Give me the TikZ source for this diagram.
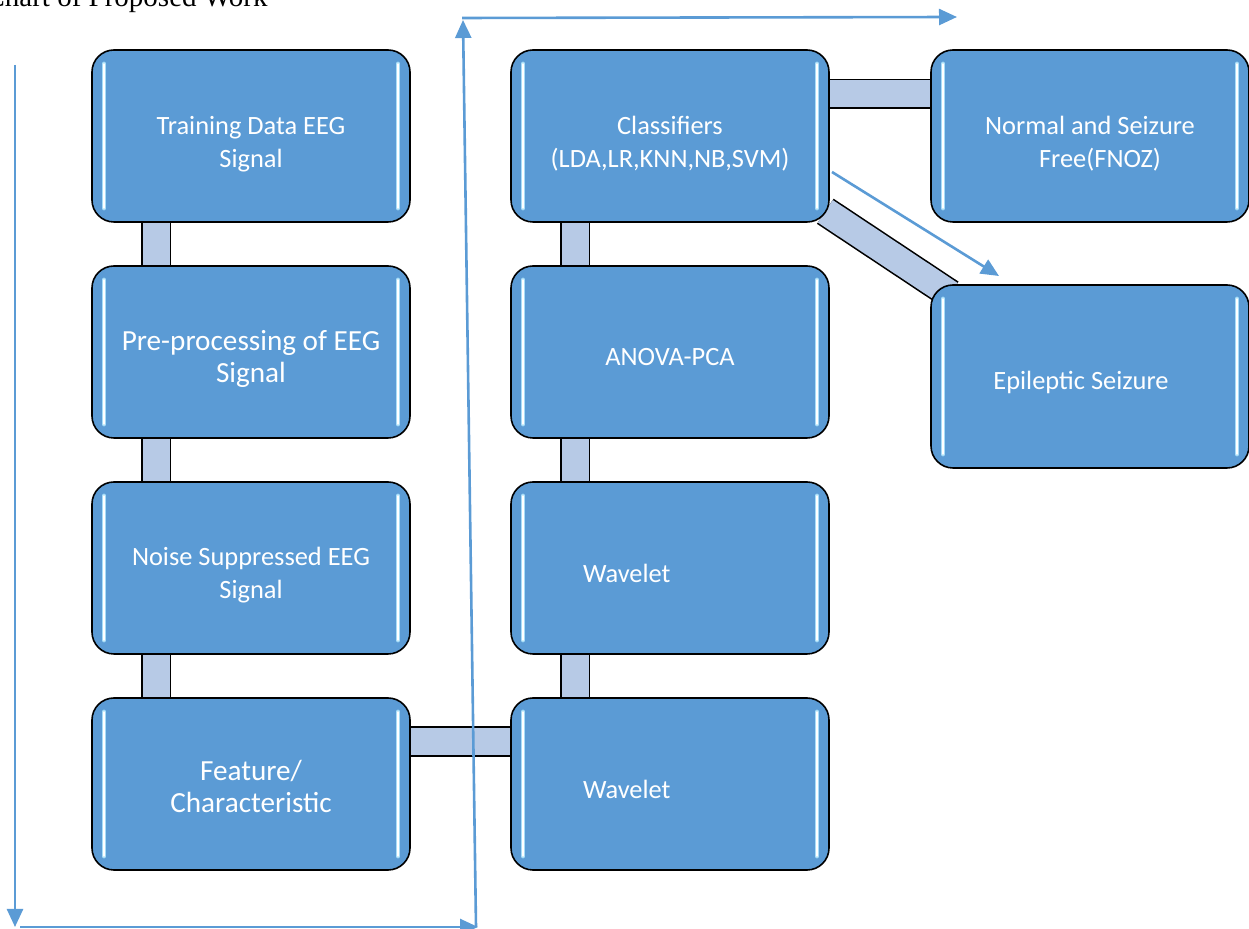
\documentclass[tikz,border=0pt]{standalone}
\usepackage{fontspec}
\setmainfont{Carlito}
\newfontfamily\titlefont{Liberation Serif}
\usetikzlibrary{positioning, arrows.meta, backgrounds}
\definecolor{boxblue}{HTML}{5B9BD5}
\definecolor{barblue}{HTML}{B7CAE6}
\definecolor{flowblue}{HTML}{5B9BD5}
\definecolor{glowblue}{HTML}{A8DDF7}
% taller first line, to set the text a little lower in its box
\newcommand{\topgap}[1]{\rule{0pt}{#1}}

\begin{document}
\begin{tikzpicture}[x=0.5pt, y=-0.5pt,
    glint/.style={glowblue, line width=2.4pt, line cap=round,
        postaction={draw=white, line width=0.9pt}},
    stage/.style={draw=black, line width=0.8pt, fill=boxblue, rounded corners=11pt,
        minimum width=159pt, minimum height=86pt, text=white, align=center,
        font=\fontsize{13.2}{16.5}\selectfont,
        path picture={
            \draw[glint] ([xshift=6pt, yshift=-7pt]path picture bounding box.north west)
                -- ([xshift=6pt, yshift=7pt]path picture bounding box.south west);
            \draw[glint] ([xshift=-6pt, yshift=-7pt]path picture bounding box.north east)
                -- ([xshift=-6pt, yshift=7pt]path picture bounding box.south east);
        }},
    bigtext/.style={font=\fontsize{14.6}{16}\selectfont},
    lefttext/.style={align=left, text width=87pt, inner xsep=36pt},
    bar/.style={draw=black, line width=0.8pt, double=barblue, double distance=13.5pt},
    flow/.style={flowblue, line width=1.3pt, -{Triangle[length=9pt, width=8pt]}}
]
    \useasboundingbox (0,0) rectangle (1249,929);
    \clip (0,0) rectangle (1249,929);

    % Caption, cut at the top
    \node[anchor=base east, inner sep=0pt, font=\titlefont\fontsize{14.5}{17}\selectfont] (title) at (268,7) {Chart of Proposed Work};

    % Left column
    \node[stage] (train) at (251,136) {\topgap{17.2pt}Training Data EEG\\Signal};
    \node[stage, bigtext] (prep) at (251,352) {\topgap{17.3pt}Pre-processing of EEG\\Signal};
    \node[stage] (noise) at (251,568) {\topgap{16.3pt}Noise Suppressed EEG\\Signal};
    \node[stage, bigtext] (feat) at (251,784) {\topgap{12.3pt}Feature/\\Characteristic};

    % Middle column
    \node[stage] (cls) at (670,136) {\topgap{17.3pt}Classifiers\\(LDA,LR,KNN,NB,SVM)};
    \node[stage] (anova) at (670,352) {\topgap{13.5pt}ANOVA-PCA};
    \node[stage, lefttext] (wav1) at (670,568) {\topgap{14.3pt}Wavelet};
    \node[stage, lefttext] (wav2) at (670,784) {\topgap{14.3pt}Wavelet};

    % Outcomes
    \node[stage] (norm) at (1090,136) {\topgap{17.2pt}Normal and Seizure\\\hspace*{10pt}Free(FNOZ)};
    \node[stage, minimum height=91.5pt] (epi) at (1090,376.5) {\topgap{15.3pt}Epileptic Seizure\hspace*{9pt}};

    % Bars behind the boxes
    \begin{pgfonlayer}{background}
        \foreach \a/\b in {train/prep, prep/noise, noise/feat, cls/anova, anova/wav1, wav1/wav2}
            \draw[bar, shorten <=-3pt, shorten >=-3pt] ([xshift=32.5pt]\a.south west) -- ([xshift=32.5pt]\b.north west);
        \draw[bar, shorten <=-3pt, shorten >=-3pt] ([yshift=21.25pt]feat.east) -- ([yshift=21.25pt]wav2.west);
        \draw[bar, shorten <=-3pt, shorten >=-3pt] ([yshift=21pt]cls.east) -- ([yshift=21pt]norm.west);
        \draw[bar] ([xshift=-2.25pt, yshift=5.75pt]cls.south east) -- ([xshift=10pt, yshift=-5pt]epi.north west);
    \end{pgfonlayer}

    % Flow arrows
    \coordinate (la) at (15,65);
    \coordinate (lb) at (15,927);
    \coordinate (ba) at (20,927);
    \coordinate (bb) at (478,927);
    \coordinate (ua) at (476,927);
    \coordinate (ub) at (463,20);
    \coordinate (ta) at (462,18);
    \coordinate (tb) at (957,17);
    \coordinate (da) at (832,172);
    \coordinate (db) at (999,276);
    \draw[flow] (la) -- (lb);
    \draw[flow] (ba) -- (bb);
    \draw[flow] (ua) -- (ub);
    \draw[flow] (ta) -- (tb);
    \draw[flow] (da) -- (db);
\end{tikzpicture}
\end{document}
